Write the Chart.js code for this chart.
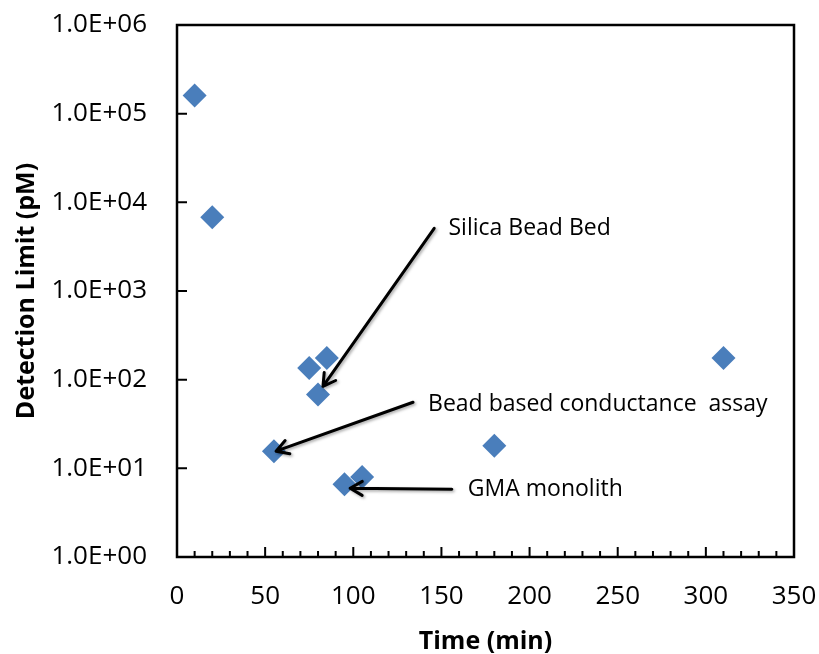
<!DOCTYPE html>
<html>
<head>
<meta charset="utf-8">
<title>Detection limit vs time</title>
<script src="https://cdn.jsdelivr.net/npm/chart.js@4/dist/chart.umd.min.js"></script>
<style>
  body { margin: 0; background: #fff; }
  #wrap { width: 819px; height: 654px; }
</style>
</head>
<body>
<div id="wrap"><canvas id="dlChart" width="819" height="654"></canvas></div>
<script>
// assay time (min) and detection limit (pM) for each method
var times  = [10, 20, 75, 85, 80, 55, 95, 105, 180, 310];
var limits = [160000, 6800, 135, 175, 68, 15.6, 6.6, 8.0, 18, 176];

var xTicks = [0, 50, 100, 150, 200, 250, 300, 350];
var yTicks = [1, 10, 100, 1000, 10000, 100000, 1000000];

// callouts: label anchor, arrow tail and arrow tip, all in data units
var noteText = ['Silica Bead Bed', 'Bead based conductance  assay', 'GMA monolith'];
var noteAt   = [[154, 5100], [142.4, 53], [165, 5.8]];
var noteFrom = [[145.9, 5090], [133.9, 55.6], [155.9, 5.8]];
var noteTo   = [[82.8, 84], [56.2, 15.6], [98.2, 5.96]];

function sci(v) {
    var e = Math.round(Math.log10(v));
    return '1.0E' + (e < 0 ? '-' : '+') + String(Math.abs(e)).padStart(2, '0');
}

// box round the plot with inward tick marks
var frame = {
    id: 'frame',
    afterDatasetsDraw: function (chart) {
        var ctx = chart.ctx;
        var a = chart.chartArea;
        var x = chart.scales.x, y = chart.scales.y;
        ctx.save();
        ctx.strokeStyle = '#000';
        ctx.lineWidth = 2.5;
        ctx.strokeRect(a.left, a.top, a.right - a.left, a.bottom - a.top);
        ctx.lineWidth = 2;
        ctx.beginPath();
        for (var v = 0; v <= 350; v += 10) {
            var px = x.getPixelForValue(v);
            var len = (v % 50 === 0) ? 10 : 6;
            ctx.moveTo(px, a.bottom);
            ctx.lineTo(px, a.bottom - len);
        }
        for (var i = 0; i < yTicks.length; i++) {
            var py = y.getPixelForValue(yTicks[i]);
            ctx.moveTo(a.left, py);
            ctx.lineTo(a.left + 10, py);
        }
        ctx.stroke();
        ctx.restore();
    }
};

// arrows with labels
var callouts = {
    id: 'callouts',
    afterDatasetsDraw: function (chart) {
        var ctx = chart.ctx;
        var x = chart.scales.x, y = chart.scales.y;
        ctx.save();
        ctx.strokeStyle = '#000';
        ctx.lineWidth = 3;
        ctx.lineCap = 'round';
        ctx.lineJoin = 'round';
        ctx.shadowColor = 'rgba(0,0,0,0.35)';
        ctx.shadowBlur = 3;
        ctx.shadowOffsetX = 1.5;
        ctx.shadowOffsetY = 1.5;
        for (var i = 0; i < noteText.length; i++) {
            var x0 = x.getPixelForValue(noteFrom[i][0]), y0 = y.getPixelForValue(noteFrom[i][1]);
            var x1 = x.getPixelForValue(noteTo[i][0]), y1 = y.getPixelForValue(noteTo[i][1]);
            var ang = Math.atan2(y1 - y0, x1 - x0);
            var head = 14, spread = Math.PI / 6;
            ctx.beginPath();
            ctx.moveTo(x0, y0);
            ctx.lineTo(x1, y1);
            ctx.moveTo(x1 - head * Math.cos(ang - spread), y1 - head * Math.sin(ang - spread));
            ctx.lineTo(x1, y1);
            ctx.lineTo(x1 - head * Math.cos(ang + spread), y1 - head * Math.sin(ang + spread));
            ctx.stroke();
        }
        ctx.shadowColor = 'transparent';
        ctx.fillStyle = '#000';
        ctx.font = '23px "Open Sans"';
        ctx.textBaseline = 'middle';
        ctx.textAlign = 'left';
        for (var j = 0; j < noteText.length; j++) {
            ctx.fillText(noteText[j], x.getPixelForValue(noteAt[j][0]), y.getPixelForValue(noteAt[j][1]));
        }
        ctx.restore();
    }
};

var ctx = document.getElementById('dlChart').getContext('2d');
var points = [];
for (var i = 0; i < times.length; i++) {
    points.push({ x: times[i], y: limits[i] });
}

var myChart = new Chart(ctx, {
    type: 'scatter',
    data: {
        datasets: [
            {
                data: points,
                pointStyle: 'rectRot',
                pointRadius: 12,
                pointHoverRadius: 12,
                backgroundColor: '#4a7ebb',
                borderColor: '#4a7ebb',
                borderWidth: 0
            }
        ]
    },
    options: {
        responsive: false,
        animation: false,
        layout: { padding: { top: 25, right: 25, left: 0, bottom: 0 } },
        plugins: {
            legend: { display: false },
            tooltip: { enabled: false }
        },
        scales: {
            x: {
                type: 'linear',
                min: 0,
                max: 350,
                grid: { display: false, drawTicks: false },
                border: { display: false },
                afterBuildTicks: function (axis) {
                    axis.ticks = xTicks.map(function (v) { return { value: v }; });
                },
                afterFit: function (axis) {
                    axis.height = 97;
                    axis.paddingLeft = 0;
                    axis.paddingRight = 0;
                },
                ticks: {
                    padding: 24,
                    color: '#000',
                    font: { family: 'Open Sans', size: 26 }
                },
                title: {
                    display: true,
                    text: 'Time (min)',
                    color: '#000',
                    padding: { top: 0, bottom: -3 },
                    font: { family: 'Open Sans', size: 25, weight: 'bold' }
                }
            },
            y: {
                type: 'logarithmic',
                min: 1,
                max: 1000000,
                grid: { display: false, drawTicks: false },
                border: { display: false },
                afterBuildTicks: function (axis) {
                    axis.ticks = yTicks.map(function (v) { return { value: v }; });
                },
                afterFit: function (axis) {
                    axis.width = 177;
                    axis.paddingTop = 0;
                    axis.paddingBottom = 0;
                },
                ticks: {
                    padding: 30,
                    color: '#000',
                    font: { family: 'Open Sans', size: 26 },
                    callback: function (value) { return sci(value); }
                },
                title: {
                    display: true,
                    text: 'Detection Limit (pM)',
                    color: '#000',
                    padding: { top: 12, bottom: 0 },
                    font: { family: 'Open Sans', size: 25, weight: 'bold' }
                }
            }
        }
    },
    plugins: [frame, callouts]
});
</script>
</body>
</html>
